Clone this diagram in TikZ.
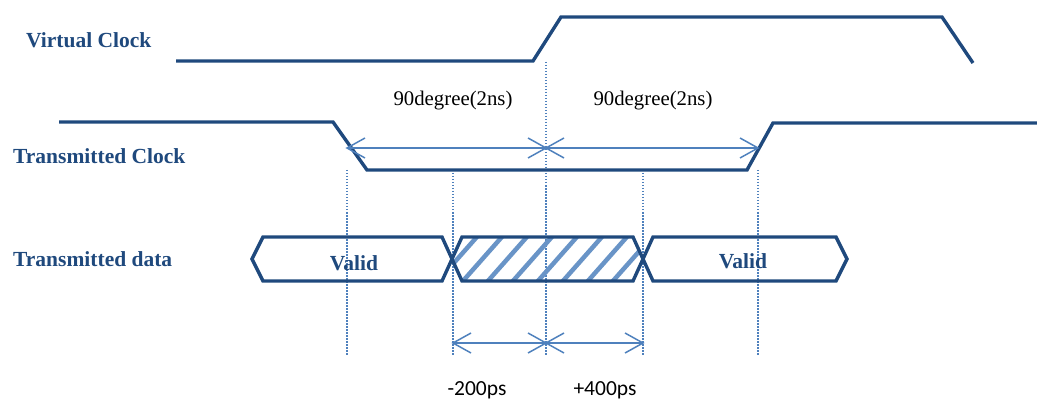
\documentclass[tikz,border=0pt]{standalone}
\usepackage{fontspec}
\setmainfont{Liberation Serif}
\newfontfamily\calfont{Carlito}
\definecolor{dkblue}{HTML}{1F497D}
\definecolor{ltblue}{HTML}{4F81BD}
\tikzset{
  sig/.style={draw=dkblue, line width=3.4pt, line join=miter},
  lbl/.style={text=dkblue, font=\fontsize{21.5}{25}\selectfont\bfseries, inner sep=0pt, anchor=west},
  vlbl/.style={text=dkblue, font=\fontsize{21.5}{25}\selectfont\bfseries, inner sep=0pt},
  dlbl/.style={text=black, font=\fontsize{20.8}{24}\selectfont, inner sep=0pt},
  pslbl/.style={text=black, font=\calfont\fontsize{21.5}{25}\selectfont, inner sep=0pt},
  guide/.style={draw=ltblue, line width=1.5pt, dash pattern=on 1.5pt off 1.5pt},
  dim/.style={draw=ltblue, line width=1.5pt},
  dimhead/.style={draw=ltblue, line width=1.5pt, line join=miter},
}
\begin{document}
\begin{tikzpicture}[x=1pt,y=-1pt]
\useasboundingbox (0,0) rectangle (1037,401);

% labels
\node[lbl] (vc) at (26,40) {Virtual Clock};
\node[lbl] (tc) at (13,156) {Transmitted Clock};
\node[lbl] (td) at (13,259) {Transmitted data};

% guide lines
\coordinate (g1t) at (347,170); \coordinate (g1b) at (347,355);
\coordinate (g2t) at (453,170); \coordinate (g2b) at (453,355);
\coordinate (g3t) at (546,62);  \coordinate (g3b) at (546,355);
\coordinate (g4t) at (643,170); \coordinate (g4b) at (643,355);
\coordinate (g5t) at (758,170); \coordinate (g5b) at (758,355);
\foreach \i in {1,...,5} \draw[guide] (g\i t) -- (g\i b);

% hatched region
\begin{scope}
  \clip (452,259) -- (462,237) -- (633,237) -- (643,259) -- (633,281) -- (462,281) -- cycle;
  \foreach \k in {380,405,...,680}
    \draw[draw=ltblue!85, line width=4.5pt] (\k,290) -- (\k+53,230);
\end{scope}

% virtual clock
\draw[sig] (176,61) -- (533,61) -- (561,17) -- (942,17) -- (973,63);
% transmitted clock
\draw[sig] (59,122) -- (333,122) -- (367,170) -- (747,170) -- (773,123) -- (1037,123);

% data
\draw[sig] (252,259) -- (263,237) -- (442,237) -- (452,259) -- (442,281) -- (263,281) -- cycle;
\draw[sig] (452,259) -- (462,237) -- (633,237) -- (643,259) -- (633,281) -- (462,281) -- cycle;
\draw[sig] (643,259) -- (653,237) -- (836,237) -- (847,259) -- (836,281) -- (653,281) -- cycle;
\node[vlbl] (v1) at (354,263) {Valid};
\node[vlbl] (v2) at (743,261) {Valid};

% dimension arrows (90 degree)
\coordinate (a1) at (347,148); \coordinate (a2) at (546,148); \coordinate (a3) at (758,148);
\draw[dim] (a1) -- (a2);
\draw[dim] (a2) -- (a3);
\draw[dimhead] (a1) ++(18,-10) -- (a1) -- ++(18,10);
\draw[dimhead] (a2) ++(-18,-10) -- (a2) -- ++(-18,10);
\draw[dimhead] (a2) ++(18,-10) -- (a2) -- ++(18,10);
\draw[dimhead] (a3) ++(-18,-10) -- (a3) -- ++(-18,10);
\node[dlbl] (d1) at (453,101) {90degree(2ns)};
\node[dlbl] (d2) at (653,101) {90degree(2ns)};

% dimension arrows (ps)
\coordinate (b1) at (453,343); \coordinate (b2) at (546,343); \coordinate (b3) at (643,343);
\draw[dim] (b1) -- (b2);
\draw[dim] (b2) -- (b3);
\draw[dimhead] (b1) ++(18,-10) -- (b1) -- ++(18,10);
\draw[dimhead] (b2) ++(-18,-10) -- (b2) -- ++(-18,10);
\draw[dimhead] (b2) ++(18,-10) -- (b2) -- ++(18,10);
\draw[dimhead] (b3) ++(-18,-10) -- (b3) -- ++(-18,10);
\node[pslbl] (p1) at (477,390) {-200ps};
\node[pslbl] (p2) at (605,390) {+400ps};
\end{tikzpicture}
\end{document}
